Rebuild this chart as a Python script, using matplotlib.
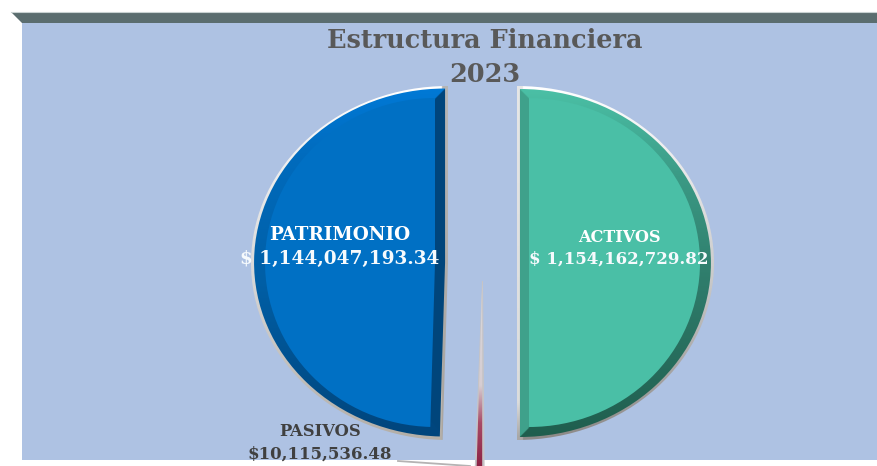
import numpy as np
import matplotlib
matplotlib.use('Agg')
import matplotlib.pyplot as plt
from matplotlib.patches import Wedge, Polygon, Rectangle
from matplotlib.transforms import Affine2D
from matplotlib.colors import to_rgb

# data
categories = ['ACTIVOS', 'PASIVOS', 'PATRIMONIO']
values = [1154162729.82, 10115536.48, 1144047193.34]
explode = [0.196, 0.115, 0.196]
title_lines = ['Estructura Financiera', '2023']

plt.rcParams['font.family'] = ['DejaVu Serif']

W, H = 878, 466
RX, RY = 191.0, 174.0     # pie radius in pixels (the original chart is stretched)
CX, CY = 482.5, 263.0


def px_x(x):
    return (x - CX) / RX


def px_y(y):
    return (CY - y) / RY


fig = plt.figure(figsize=(W / 100, H / 100), dpi=100, facecolor='white')

# background panel, in pixel coordinates
ax_bg = fig.add_axes([0, 0, 1, 1], zorder=0)
ax_bg.set_xlim(0, W)
ax_bg.set_ylim(H, 0)
ax_bg.axis('off')
ax_bg.add_patch(Rectangle((22, 22), W - 22, 438, fc='#AEC2E3', ec='none'))
ax_bg.add_patch(Polygon([(11, 12), (W, 12), (W, 22.5), (22, 22.5)], fc='#5B6D6F', ec='none'))
ax_bg.plot([11, W], [11.6, 11.6], color='#C9D2D2', lw=0.8)

# pie axes
ax = fig.add_axes([0, 0, 1, 1], zorder=1)
ax.patch.set_alpha(0)
wedges, _ = ax.pie(values, explode=explode, startangle=90, counterclock=False, radius=1)
ax.set_aspect('auto')
ax.set_autoscale_on(False)
ax.set_xlim(px_x(0), px_x(W))
ax.set_ylim(px_y(H), px_y(0))
ax.axis('off')

gx, gy = np.meshgrid(np.linspace(px_x(0), px_x(W), W * 2), np.linspace(px_y(0), px_y(H), H * 2))
extent = (px_x(0), px_x(W), px_y(H), px_y(0))


def ramp(t, stops):
    pos = [s[0] for s in stops]
    rgb = np.array([to_rgb(s[1]) for s in stops])
    return np.dstack([np.interp(t, pos, rgb[:, i]) for i in range(3)])


def scaled_wedge(w, px_center, rx, ry, fc, zorder, widen=0):
    tr = Affine2D().scale(rx / RX, ry / RY).translate(px_x(px_center[0]), px_y(px_center[1])) + ax.transData
    p = Wedge((0, 0), 1, w.theta1 - widen, w.theta2 + widen, fc=fc, ec='none', zorder=zorder, transform=tr)
    ax.add_patch(p)
    return p


def clipped_image(rgb, patch, zorder):
    im = ax.imshow(rgb, extent=extent, origin='upper', aspect='auto', zorder=zorder, interpolation='bilinear')
    im.set_clip_path(patch)
    return im


def bevel(w, arc_stops, flat_color, zorder):
    ax0, ay0 = w.center
    # t is 0 at the bottom of the wedge and 1 at its top
    t = (gy - (ay0 - 1)) / 2
    rgb = ramp(t, arc_stops)
    d_arc = (1 - np.hypot(gx - ax0, gy - ay0)) * RY
    d_straight = np.abs(gx - ax0) * RX
    rgb[d_straight < d_arc] = to_rgb(flat_color)
    w.set_facecolor('none')
    w.set_edgecolor('none')
    w.set_zorder(zorder)
    clipped_image(rgb, w, zorder)


def rim(px_center, w, stops, flat_stops, zorder):
    p = scaled_wedge(w, px_center, 197, 177, 'none', zorder)
    t = (gy - (px_y(px_center[1]) - 1)) / 2
    rgb = ramp(t, stops)
    # the straight edge has its own, separate tone
    near_edge = np.abs(gx - px_x(px_center[0])) * RX < 6
    rgb[near_edge] = ramp(t, flat_stops)[near_edge]
    clipped_image(rgb, p, zorder)


act, pas, pat = wedges

# activos
rim((517, 263), act, [(0, '#8D8A88'), (0.45, '#C9C9C9'), (1, '#FFFFFF')],
    [(0, '#A9A7A6'), (0.1, '#DCDCDC'), (1, '#E6E6E6')], 2)
bevel(act, [(0, '#1F5E4E'), (0.45, '#2F7C6B'), (0.75, '#3B9A85'), (1, '#4BC0A6')], '#3FA28B', 3)
scaled_wedge(act, (529, 262.5), 171, 164.5, '#4ABFA6', 4)

# patrimonio
rim((448, 263), pat, [(0, '#B4AFA8'), (0.45, '#D6D6D6'), (1, '#FFFFFF')],
    [(0, '#A9A49E'), (1, '#B5B5B5')], 2)
bevel(pat, [(0, '#00457C'), (0.45, '#005FA6'), (0.8, '#006BBD'), (1, '#0079D6')], '#00457C', 3)
scaled_wedge(pat, (435, 262.5), 170, 164.5, '#0070C4', 4)

# pasivos, a thin spike that runs past the bottom of the panel
pas.set_radius(1.08)
pas_rim = scaled_wedge(pas, (482.5, 281), RX * 1.09, RY * 1.09, '#C6C4C6', 2, widen=0.45)
pas_rim.set_edgecolor('#C6C4C6')
pas_rim.set_linewidth(0.7)
t_pas = (gy - px_y(283)) / (px_y(470) - px_y(283))
bevel_rgb = ramp(t_pas, [(0, '#D9D9DC'), (0.55, '#D6CDD2'), (0.75, '#A84A66'), (1, '#8A1F42')])
pas.set_facecolor('none')
pas.set_edgecolor('none')
pas.set_zorder(3)
clipped_image(bevel_rgb, pas, 3)

ax.set_xlim(px_x(0), px_x(W))
ax.set_ylim(px_y(H), px_y(0))

# leader line for the small slice
ax_over = fig.add_axes([0, 0, 1, 1], zorder=2)
ax_over.set_xlim(0, W)
ax_over.set_ylim(H, 0)
ax_over.axis('off')
ax_over.plot([398, 470], [461, 466], color='#B5B3B3', lw=1.3)


# labels
def label(x, y, s, size, color):
    ax_over.text(x, y, s, fontsize=size, color=color, fontweight='bold', ha='center', va='center')


label(485, 40, title_lines[0], 18.4, '#595959')
label(485, 74, title_lines[1], 18.4, '#595959')
label(340, 235, categories[2], 13.2, 'white')
label(340, 259, '$ {:,.2f}'.format(values[2]), 13.3, '#F6FAFD')
label(619, 237, categories[0], 11.6, 'white')
label(619, 259, '$ {:,.2f}'.format(values[0]), 12, '#F6FAFD')
label(320, 432, categories[1], 11.8, '#404040')
label(320, 454, '${:,.2f}'.format(values[1]), 12, '#404040')

fig.savefig('out.png', dpi=100)
